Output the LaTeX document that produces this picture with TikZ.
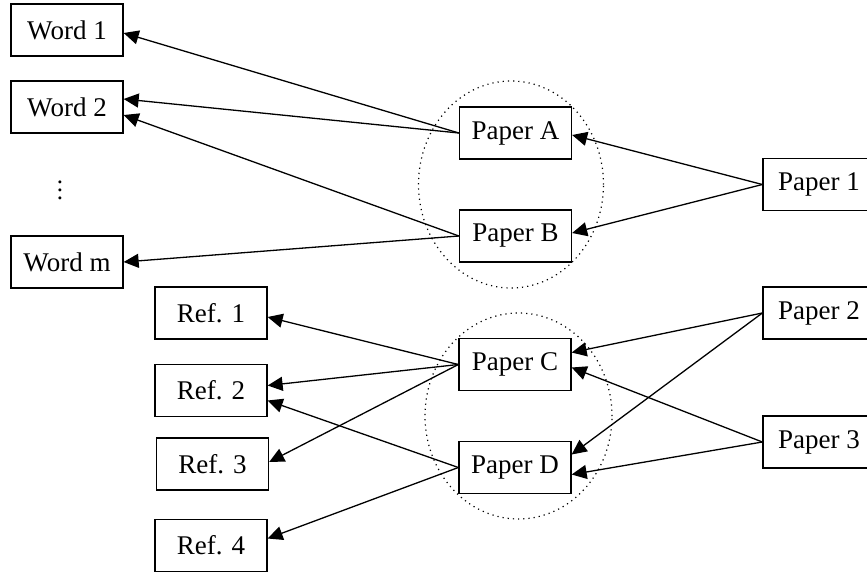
\documentclass[tikz,border=0pt]{standalone}
\usepackage{fontspec}
\setmainfont{Liberation Serif}
\usetikzlibrary{arrows.meta}
\tikzstyle{paper} = [rectangle, draw=black, line width=0.65pt, minimum width=56pt, minimum height=26pt, inner sep=0pt, font=\fontsize{13.5}{16}\selectfont]
\tikzstyle{group} = [draw=black, dotted, line width=0.6pt]
\tikzstyle{arrow} = [line width=0.65pt, -{Triangle[length=7.5pt,width=7pt]}]

\begin{document}
\begin{tikzpicture}[x=0.5pt,y=-0.5pt]
	\useasboundingbox (0,0) rectangle (867,573);

	% keyword side
	\node (word1) [paper] at (67,30) {Word 1};
	\node (word2) [paper] at (67,107) {Word 2};
	\node (dots) at (60,184) {\fontsize{12.5}{15}\selectfont$\vdots$};
	\node (wordm) [paper] at (67,262) {Word m};

	% reference side
	\node (ref1) [paper] at (211,313) {Ref. 1};
	\node (ref2) [paper] at (211,390.5) {Ref. 2};
	\node (ref3) [paper] at (212.5,464) {Ref. 3};
	\node (ref4) [paper] at (211,545.5) {Ref. 4};

	% grouped papers
	\draw [group] (511,184.5) ellipse [x radius=46.25pt, y radius=51.75pt];
	\draw [group] (518.5,416) ellipse [x radius=46.75pt, y radius=51.5pt];
	\node (paperA) [paper] at (515.5,133) {Paper A};
	\node (paperB) [paper] at (515.5,236) {Paper B};
	\node (paperC) [paper] at (515,364.5) {Paper C};
	\node (paperD) [paper] at (515,467.5) {Paper D};

	% citing papers
	\node (paper1) [paper] at (819,184.5) {Paper 1};
	\node (paper2) [paper] at (819,313) {Paper 2};
	\node (paper3) [paper] at (819,442) {Paper 3};

	\draw [arrow] (paperA.west) -- ([yshift=-1.5pt]word1.east);
	\draw [arrow] (paperA.west) -- ([yshift=4pt]word2.east);
	\draw [arrow] (paperB.west) -- ([yshift=-4pt]word2.east);
	\draw [arrow] (paperB.west) -- (wordm.east);

	\draw [arrow] (paperC.west) -- ([yshift=-2pt]ref1.east);
	\draw [arrow] (paperC.west) -- ([yshift=2.5pt]ref2.east);
	\draw [arrow] (paperC.west) -- ([yshift=1pt]ref3.east);
	\draw [arrow] (paperD.west) -- ([yshift=-5pt]ref2.east);
	\draw [arrow] (paperD.west) -- ([yshift=3.5pt]ref4.east);

	\draw [arrow] (paper1.west) -- ([yshift=-1pt]paperA.east);
	\draw [arrow] (paper1.west) -- ([yshift=1.5pt]paperB.east);
	\draw [arrow] (paper2.west) -- ([yshift=6pt]paperC.east);
	\draw [arrow] (paper2.west) -- ([yshift=6.5pt]paperD.east);
	\draw [arrow] (paper3.west) -- ([yshift=-1.5pt]paperC.east);
	\draw [arrow] (paper3.west) -- ([yshift=-3.5pt]paperD.east);
\end{tikzpicture}
\end{document}
